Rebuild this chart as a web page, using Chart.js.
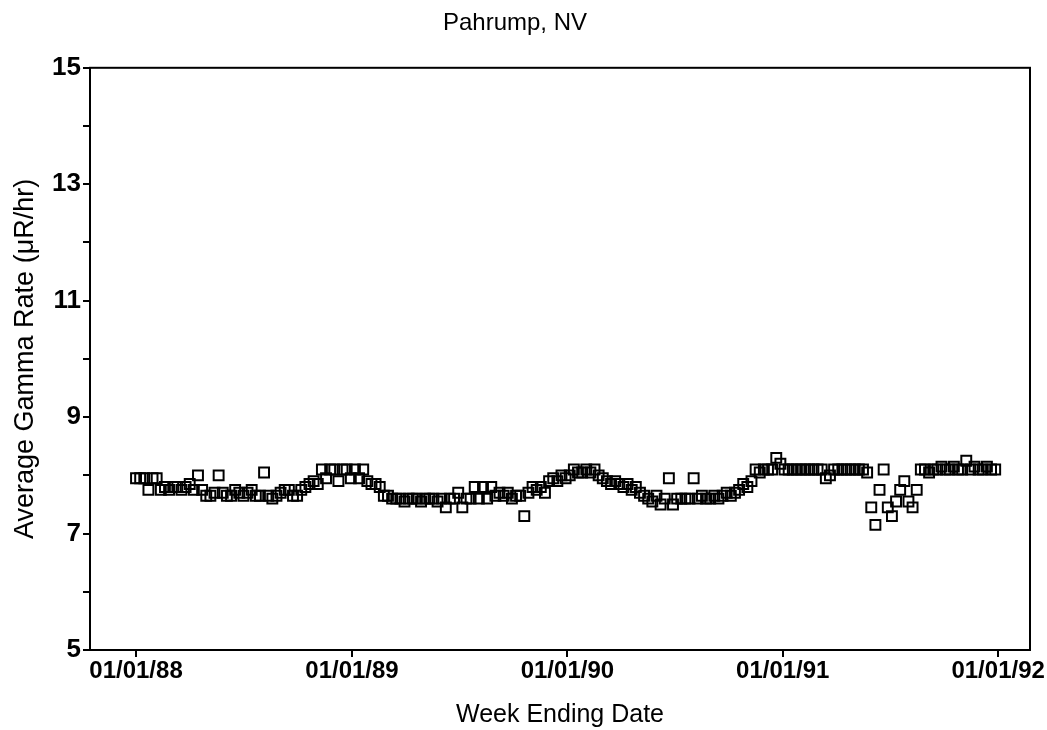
<!DOCTYPE html>
<html>
<head>
<meta charset="utf-8">
<script src="https://cdn.jsdelivr.net/npm/chart.js@4"></script>
<style>
  html, body { margin: 0; padding: 0; background: #fff; }
  #wrap { width: 1047px; height: 730px; position: relative; }
</style>
</head>
<body>
<div id="wrap"><canvas id="c" width="1047" height="730"></canvas></div>
<script>
// ---- data ----
const titleText = "Pahrump, NV";
const xAxisTitle = "Week Ending Date";
const yAxisTitle = "Average Gamma Rate (\u03BCR/hr)";
const startDate = "1988-01-01";        // first week ending date
const weekStepDays = 7;
const xTickDays = [0, 366, 731, 1096, 1461];
const xTickLabels = ["01/01/88", "01/01/89", "01/01/90", "01/01/91", "01/01/92"];
const yTickValues = [5, 6, 7, 8, 9, 10, 11, 12, 13, 14, 15];
const yTickLabels = ["5", "", "7", "", "9", "", "11", "", "13", "", "15"];
const gammaRate = [
  // 1988
  7.95, 7.95, 7.95, 7.75, 7.95, 7.95, 7.75,
  7.8, 7.75, 7.8, 7.8, 7.75, 7.8, 7.85,
  7.75, 8.0,
  7.75, 7.65, 7.65, 7.7,
  8.0,
  7.7, 7.65, 7.65, 7.75, 7.7,
  7.65, 7.7, 7.75, 7.65, 7.65,
  8.05,
  7.65, 7.6, 7.65, 7.7,
  7.75, 7.75, 7.65, 7.65, 7.75,
  7.8, 7.85, 7.9, 7.85,
  8.1, 7.95, 8.1, 8.1, 7.9, 8.1, 8.1,
  // 1989
  7.95, 8.1, 7.95, 8.1,
  7.9, 7.85, 7.85, 7.8,
  7.65, 7.65, 7.6,
  7.6, 7.6, 7.55, 7.6, 7.6, 7.6, 7.55, 7.6, 7.6, 7.6, 7.55, 7.6,
  7.45, 7.6, 7.6, 7.7, 7.45, 7.6, 7.6,
  7.8, 7.6, 7.8, 7.6, 7.8,
  7.65, 7.7, 7.65, 7.7, 7.6, 7.65,
  7.65, 7.3,
  7.7, 7.8, 7.75, 7.8, 7.7,
  7.9, 7.95, 7.9, 8.0, 7.95,
  // 1990
  8.0, 8.1, 8.05, 8.05, 8.1, 8.05, 8.1,
  8.0, 7.95, 7.9, 7.85, 7.9, 7.85,
  7.8, 7.85, 7.75, 7.8, 7.7,
  7.65, 7.6, 7.55, 7.65, 7.5,
  7.6, 7.95, 7.5, 7.6, 7.6, 7.6, 7.6, 7.95,
  7.6, 7.65, 7.6, 7.6, 7.65, 7.6, 7.65, 7.7, 7.65, 7.7,
  7.75, 7.85, 7.8, 7.9,
  8.1, 8.05, 8.1, 8.1,
  8.1, 8.3, 8.2, 8.1,
  // 1991
  8.1, 8.1, 8.1, 8.1, 8.1, 8.1, 8.1, 8.1, 8.1,
  7.95, 8.0,
  8.1, 8.1, 8.1, 8.1, 8.1, 8.1, 8.1, 8.1,
  8.05,
  7.45, 7.15, 7.75, 8.1, 7.45, 7.3, 7.55, 7.75, 7.9, 7.55, 7.45, 7.75,
  8.1, 8.1, 8.05, 8.1, 8.1, 8.15, 8.1, 8.1, 8.15, 8.1, 8.1,
  8.25,
  8.1, 8.15, 8.1, 8.1, 8.15, 8.1, 8.1
];

// ---- build points (x = days since start, weekly) ----
const points = gammaRate.map((v, i) => ({ x: i * weekStepDays, y: v }));

const FONT = "'Liberation Sans', Arial, Helvetica, sans-serif";

const frame = {
  id: 'frame',
  beforeDraw(chart) {
    const ctx = chart.ctx;
    ctx.save();
    ctx.fillStyle = '#fff';
    ctx.fillRect(0, 0, chart.width, chart.height);
    ctx.restore();
  },
  afterDraw(chart) {
    const a = chart.chartArea, ctx = chart.ctx;
    ctx.save();
    ctx.strokeStyle = '#000';
    ctx.lineWidth = 2;
    ctx.strokeRect(a.left, a.top, a.right - a.left, a.bottom - a.top);
    ctx.restore();
  }
};

new Chart(document.getElementById('c'), {
  type: 'scatter',
  data: {
    datasets: [{
      data: points,
      pointStyle: 'rect',
      pointRadius: 7,
      pointBorderWidth: 2,
      pointBorderColor: '#000',
      pointBackgroundColor: 'rgba(0,0,0,0)',
      showLine: false
    }]
  },
  options: {
    responsive: false,
    animation: false,
    events: [],
    layout: { padding: { left: 0, right: 17, top: 0, bottom: 0 } },
    plugins: {
      legend: { display: false },
      tooltip: { enabled: false },
      title: {
        display: true,
        text: titleText,
        color: '#000',
        font: { family: FONT, size: 24, weight: 'normal' },
        padding: { top: 9, bottom: 30 }
      }
    },
    scales: {
      x: {
        type: 'linear',
        min: -78,
        max: 1515,
        afterBuildTicks(scale) { scale.ticks = xTickDays.map(v => ({ value: v })); },
        afterFit(scale) { scale.height = 80; },
        border: { display: true, color: '#000', width: 2 },
        grid: { drawOnChartArea: false, drawTicks: true, tickLength: 7, color: '#000', lineWidth: 2 },
        ticks: {
          color: '#000',
          font: { family: FONT, size: 24, weight: 'bold' },
          padding: 0,
          maxRotation: 0,
          autoSkip: false,
          callback(value) {
            const k = xTickDays.indexOf(value);
            return k >= 0 ? xTickLabels[k] : '';
          }
        },
        title: {
          display: true,
          text: xAxisTitle,
          color: '#000',
          font: { family: FONT, size: 25, weight: 'normal' },
          padding: { top: 6, bottom: 0 }
        }
      },
      y: {
        type: 'linear',
        min: 5,
        max: 15,
        afterBuildTicks(scale) { scale.ticks = yTickValues.map(v => ({ value: v })); },
        afterFit(scale) { scale.width = 90; },
        border: { display: true, color: '#000', width: 2 },
        grid: { drawOnChartArea: false, drawTicks: true, tickLength: 7, color: '#000', lineWidth: 2 },
        ticks: {
          color: '#000',
          font: { family: FONT, size: 26, weight: 'bold' },
          padding: 2,
          autoSkip: false,
          callback(value) {
            const k = yTickValues.indexOf(value);
            return k >= 0 ? yTickLabels[k] : '';
          }
        },
        title: {
          display: true,
          text: yAxisTitle,
          color: '#000',
          font: { family: FONT, size: 27, weight: 'normal' },
          padding: { top: 9, bottom: 2 }
        }
      }
    }
  },
  plugins: [frame]
});
</script>
</body>
</html>
